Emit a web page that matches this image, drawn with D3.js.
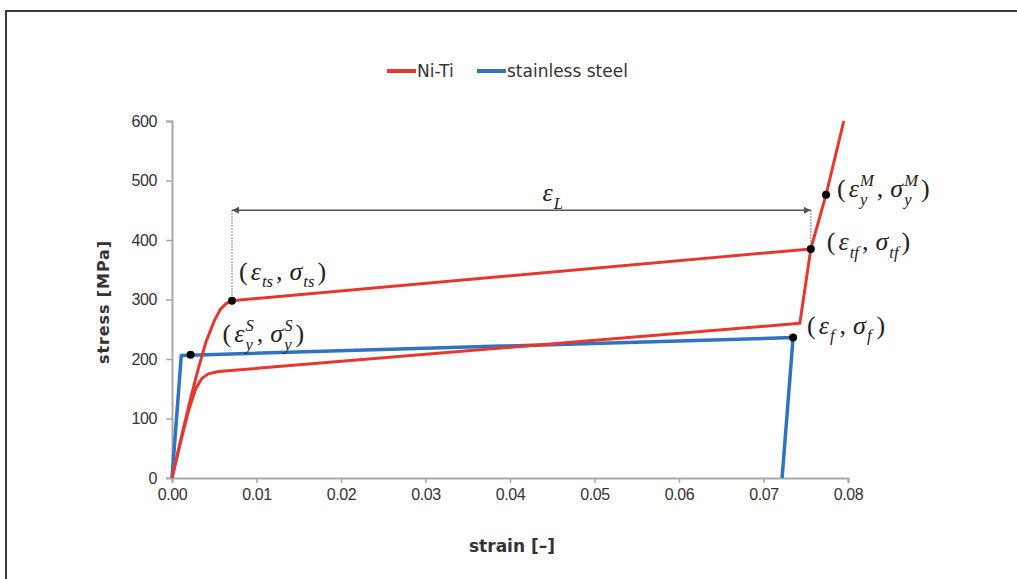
<!DOCTYPE html>
<html><head><meta charset="utf-8">
<script src="https://cdn.jsdelivr.net/npm/d3@7"></script>
<style>
html,body{margin:0;padding:0;background:#fff;}
svg{display:block;}
</style></head>
<body>
<svg id="chart" width="1017" height="579"></svg>
<script>
// ---------- data ----------
const xTicks = [0,0.01,0.02,0.03,0.04,0.05,0.06,0.07,0.08];
const yTicks = [0,100,200,300,400,500,600];
const seriesNames = ["Ni-Ti","stainless steel"];
// Ni-Ti loading branch [strain, stress]
const nitiLoadX = [0,0.001,0.002,0.003,0.004,0.005,0.0057,0.0064,0.0071,0.0756,0.0774,0.0795];
const nitiLoadY = [0,62,122,178,228,264,283,293,298,385,476,600];
// Ni-Ti unloading branch
const nitiUnloadX = [0,0.001,0.002,0.0028,0.0035,0.0043,0.0055,0.0743,0.0756];
const nitiUnloadY = [0,60,115,150,167,175,179,260,385];
// stainless steel
const steelX = [0,0.0011,0.0735,0.0722];
const steelY = [0,206,236,0];
// marked points
const dotX = [0.0071,0.0756,0.0774,0.0022,0.0735];
const dotY = [298,385,476,207,236];
// strain plateau dimension
const epsLFrom = 0.0071, epsLTo = 0.0756, epsLStress = 450;

// ---------- layout ----------
const svg = d3.select("#chart");
const x = d3.scaleLinear().domain([0,0.08]).range([172,848]);
const y = d3.scaleLinear().domain([0,600]).range([478,121]);
const RED = "#e6382f", BLUE = "#2f73c1";

// frame (cropped figure box)
svg.append("path").attr("d","M6,579 L6,11 L1017,11")
  .attr("fill","none").attr("stroke","#3a3a3a").attr("stroke-width",2);

// axes
const xAxis = svg.append("g").attr("transform",`translate(0,${y(0)})`)
  .call(d3.axisBottom(x).tickValues(xTicks).tickFormat(d3.format(".2f")).tickSize(5).tickPadding(6));
const yAxis = svg.append("g").attr("transform",`translate(${x(0)},0)`)
  .call(d3.axisLeft(y).tickValues(yTicks).tickSize(6).tickPadding(9));
[xAxis,yAxis].forEach(a=>{
  a.select(".domain").attr("stroke","#a8a8a8").attr("stroke-width",2);
  a.selectAll(".tick line").attr("stroke","#a8a8a8").attr("stroke-width",1.5);
  a.selectAll(".tick text").attr("fill","#333")
    .style("font-family","'Liberation Sans',Arial,sans-serif").style("font-size","16px")
    .style("letter-spacing","-0.4px");
});

// axis titles
svg.append("text").attr("x",512).attr("y",552).attr("text-anchor","middle")
  .style("font-family","'DejaVu Sans',sans-serif").style("font-weight","bold").style("font-size","17px")
  .attr("fill","#333").text("strain [–]");
svg.append("text").attr("transform","translate(109,302) rotate(-90)").attr("text-anchor","middle")
  .style("font-family","'DejaVu Sans',sans-serif").style("font-weight","bold").style("font-size","16px")
  .style("letter-spacing","0.9px").attr("fill","#333").text("stress [MPa]");

// legend
const legend = [{name:seriesNames[0],c:RED,x0:387},{name:seriesNames[1],c:BLUE,x0:477}];
legend.forEach(l=>{
  svg.append("line").attr("x1",l.x0).attr("x2",l.x0+29).attr("y1",71).attr("y2",71)
    .attr("stroke",l.c).attr("stroke-width",4);
  svg.append("text").attr("x",l.x0+30).attr("y",77)
    .style("font-family","'DejaVu Sans',sans-serif").style("font-size","17px").attr("fill","#333").text(l.name);
});

// curves
const line = d3.line().x(d=>x(d[0])).y(d=>y(d[1]));
const zip = (a,b)=>a.map((v,i)=>[v,b[i]]);
svg.append("path").datum(zip(steelX,steelY)).attr("d",line)
  .attr("fill","none").attr("stroke",BLUE).attr("stroke-width",3.5).attr("stroke-linejoin","round");
svg.append("path").datum(zip(nitiUnloadX,nitiUnloadY)).attr("d",line)
  .attr("fill","none").attr("stroke",RED).attr("stroke-width",3).attr("stroke-linejoin","round");
svg.append("path").datum(zip(nitiLoadX,nitiLoadY)).attr("d",line)
  .attr("fill","none").attr("stroke",RED).attr("stroke-width",3).attr("stroke-linejoin","round");

// dimension eps_L
const defs = svg.append("defs");
defs.append("marker").attr("id","arr").attr("viewBox","0 0 10 10").attr("refX",10).attr("refY",5)
  .attr("markerWidth",9).attr("markerHeight",7).attr("markerUnits","userSpaceOnUse").attr("orient","auto-start-reverse")
  .append("path").attr("d","M0,0 L10,5 L0,10 z").attr("fill","#555");
svg.append("line").attr("x1",x(epsLFrom)).attr("x2",x(epsLFrom)).attr("y1",y(epsLStress)).attr("y2",y(dotY[0]))
  .attr("stroke","#777").attr("stroke-width",1.2).attr("stroke-dasharray","1.5,1.5");
svg.append("line").attr("x1",x(epsLTo)).attr("x2",x(epsLTo)).attr("y1",y(epsLStress)).attr("y2",y(dotY[1]))
  .attr("stroke","#777").attr("stroke-width",1.2).attr("stroke-dasharray","1.5,1.5");
svg.append("line").attr("x1",x(epsLFrom)).attr("x2",x(epsLTo)).attr("y1",y(epsLStress)).attr("y2",y(epsLStress))
  .attr("stroke","#555").attr("stroke-width",1.5)
  .attr("marker-start","url(#arr)").attr("marker-end","url(#arr)");

// dots
svg.selectAll("circle.dot").data(zip(dotX,dotY)).join("circle").attr("class","dot")
  .attr("cx",d=>x(d[0])).attr("cy",d=>y(d[1])).attr("r",4).attr("fill","#000");

// math labels
function mathLabel(x0, y0, parts, size){
  const g = svg.append("g");
  let cx = x0;
  const ff = "'Liberation Serif','Times New Roman',serif";
  parts.forEach(p=>{
    if(p.t!==undefined){
      const t = g.append("text").attr("x",cx).attr("y",y0).style("font-family",ff)
        .style("font-size",size+"px").style("font-style",p.it?"italic":"normal").attr("fill","#222").text(p.t);
      cx += t.node().getComputedTextLength() + (p.gap||0);
    } else {
      const s = size*0.64;
      let w = 0;
      if(p.sub){
        const t = g.append("text").attr("x",cx).attr("y",y0+size*0.3).style("font-family",ff)
          .style("font-size",s+"px").style("font-style","italic").attr("fill","#222").text(p.sub);
        w = Math.max(w,t.node().getComputedTextLength());
      }
      if(p.sup){
        const t = g.append("text").attr("x",cx).attr("y",y0-size*0.42).style("font-family",ff)
          .style("font-size",s+"px").style("font-style","italic").attr("fill","#222").text(p.sup);
        w = Math.max(w,t.node().getComputedTextLength());
      }
      cx += w + (p.gap===undefined?3:p.gap);
    }
  });
  return g;
}
const FS = 26;
const pair = (a,b)=>[{t:"(",gap:3},{t:"ε",it:true,gap:1},a,{t:",",gap:7},{t:"σ",it:true,gap:1},b,{t:")"}];
mathLabel(x(dotX[0])+7, y(dotY[0])-21, pair({sub:"ts"},{sub:"ts"}), FS);
mathLabel(x(dotX[1])+16, y(dotY[1])+1, pair({sub:"tf"},{sub:"tf"}), FS);
mathLabel(x(dotX[2])+11, y(dotY[2])+2, pair({sub:"y",sup:"M"},{sub:"y",sup:"M"}), FS);
mathLabel(x(dotX[3])+32, y(dotY[3])-13, pair({sub:"y",sup:"S"},{sub:"y",sup:"S"}), FS);
mathLabel(x(dotX[4])+14, y(dotY[4])-4, pair({sub:"f",gap:5},{sub:"f",gap:5}), FS);
mathLabel(x((epsLFrom+epsLTo)/2)+21, y(epsLStress)-9, [{t:"ε",it:true,gap:1},{sub:"L"}], FS);
</script>
</body></html>
